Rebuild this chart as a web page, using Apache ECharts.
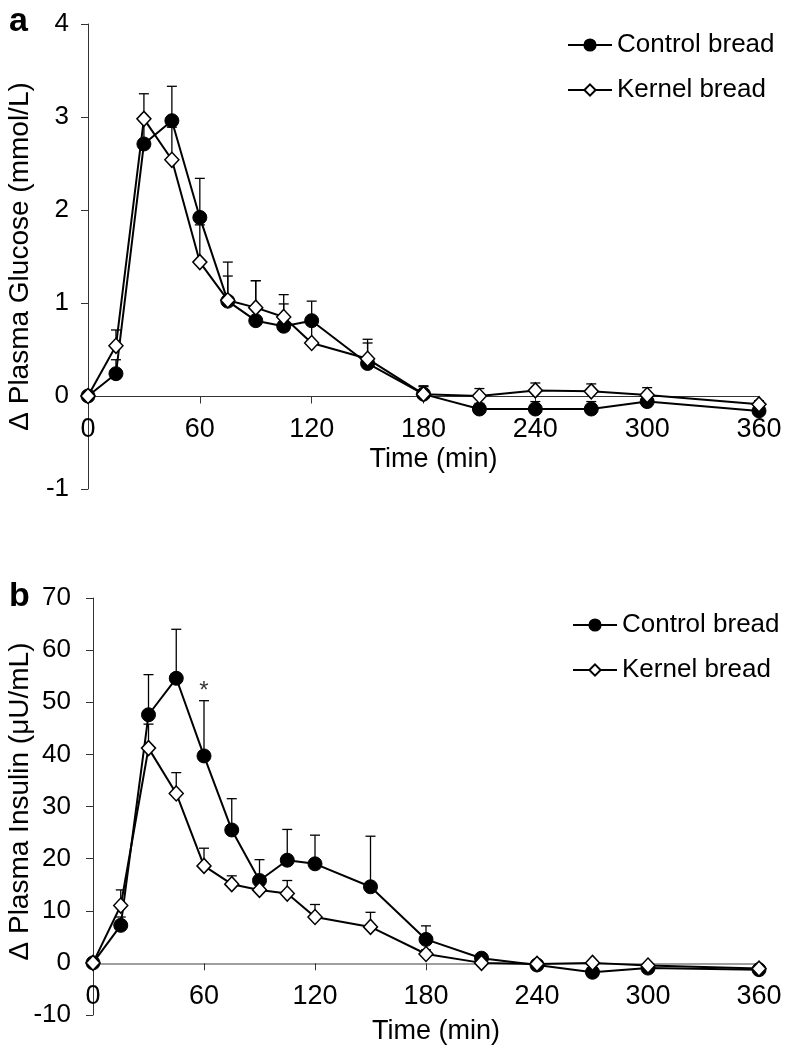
<!DOCTYPE html>
<html>
<head>
<meta charset="utf-8">
<script src="https://cdn.jsdelivr.net/npm/echarts@6/dist/echarts.min.js"></script>
<style>
html,body{margin:0;padding:0;background:#fff;}
#chart{width:786px;height:1045px;}
</style>
</head>
<body>
<div id="chart"></div>
<script>
// ---- data ----
const times = [0, 15, 30, 45, 60, 75, 90, 105, 120, 150, 180, 210, 240, 270, 300, 360];
const seriesNames = ['Control bread', 'Kernel bread'];

// Panel a: Δ plasma glucose (mmol/L)
const glucoseControl    = [0, 0.24, 2.71, 2.96, 1.92, 1.02, 0.81, 0.75, 0.81, 0.35, 0.02, -0.14, -0.14, -0.14, -0.06, -0.16];
const glucoseControlSem = [0, 0.15, 0.28, 0.37, 0.42, 0.27, 0.43, 0.24, 0.21, 0.22, 0.09, 0.06, 0.08, 0.08, 0.06, 0.05];
const glucoseKernel     = [0, 0.54, 2.98, 2.54, 1.44, 1.03, 0.95, 0.85, 0.57, 0.40, 0.02, 0.00, 0.06, 0.05, 0.01, -0.09];
const glucoseKernelSem  = [0, 0.17, 0.27, 0.35, 0.40, 0.41, 0.29, 0.24, 0.20, 0.21, 0.08, 0.08, 0.08, 0.08, 0.08, 0.04];

// Panel b: Δ plasma insulin (μU/mL)
const insulinControl    = [0, 7.2, 47.6, 54.6, 39.7, 25.5, 15.8, 19.7, 19.0, 14.6, 4.5, 0.9, -0.4, -1.8, -1.0, -1.3];
const insulinControlSem = [0, 1.6, 7.7, 9.4, 10.6, 6.0, 4.0, 5.9, 5.5, 9.7, 2.6, 0.8, 0.5, 0.6, 0.6, 0.5];
const insulinKernel     = [0, 11.0, 41.2, 32.5, 18.6, 15.1, 14.0, 13.3, 8.8, 6.9, 1.7, 0.0, -0.2, 0.0, -0.5, -1.1];
const insulinKernelSem  = [0, 3.0, 4.6, 4.0, 3.4, 1.6, 1.5, 2.5, 2.4, 2.8, 0.8, 0.4, 0.4, 0.4, 0.4, 0.3];

// significance marks (panel b)
const insulinSignif = [[60, 53.7, '*']];

// axis settings
const xTicks = {min: 0, max: 360, interval: 60};
const glucoseTicks = {min: -1, max: 4, interval: 1};
const insulinTicks = {min: -10, max: 70, interval: 10};

// ---- chart ----
const FONT = '"Liberation Sans", Arial, Helvetica, sans-serif';
const NARROW = '"Liberation Sans Narrow", "Arial Narrow", "Liberation Sans", Arial, sans-serif';

function pairs(xs, ys) { return xs.map((x, i) => [x, ys[i]]); }
function triples(xs, ys, es) { return xs.map((x, i) => [x, ys[i], es[i]]); }

function errRender(params, api) {
  const x = api.value(0), m = api.value(1), s = api.value(2);
  if (!s) return null;
  const p0 = api.coord([x, m]);
  const p1 = api.coord([x, m + s]);
  const st = {stroke: '#000', lineWidth: 1.3};
  return {
    type: 'group',
    children: [
      {type: 'line', shape: {x1: p0[0], y1: p0[1], x2: p1[0], y2: p1[1]}, style: st},
      {type: 'line', shape: {x1: p1[0] - 5, y1: p1[1], x2: p1[0] + 5, y2: p1[1]}, style: st}
    ]
  };
}

function lineSeries(name, data, idx, isControl) {
  return {
    name: name, type: 'line', data: data,
    xAxisIndex: idx, yAxisIndex: idx,
    symbol: isControl ? 'circle' : 'diamond',
    symbolSize: isControl ? 14 : [14, 15],
    showAllSymbol: true,
    lineStyle: {color: '#000', width: 2},
    itemStyle: isControl ? {color: '#000', borderColor: '#000', borderWidth: 1}
                         : {color: '#fff', borderColor: '#000', borderWidth: 1.5},
    z: 3, animation: false
  };
}
function errSeries(data, idx) {
  return {type: 'custom', renderItem: errRender, data: data,
    xAxisIndex: idx, yAxisIndex: idx, z: 2, silent: true,
    encode: {x: 0, y: 1}, animation: false};
}

// x axis drawn through y = 0 (offset moves it up from the grid bottom to the zero line)
function xAxis(idx, lineColor, lineWidth, offset, nameGap) {
  return {
    type: 'value', gridIndex: idx, min: xTicks.min, max: xTicks.max, interval: xTicks.interval,
    position: 'bottom', offset: offset,
    name: 'Time (min)', nameLocation: 'middle', nameGap: nameGap, nameMoveOverlap: false,
    nameTextStyle: {fontFamily: FONT, fontSize: 27, color: '#000', padding: [0, 0, 0, 20]},
    axisLine: {onZero: false, lineStyle: {color: lineColor, width: lineWidth}},
    axisTick: {show: true, inside: false, length: 7, lineStyle: {color: '#333', width: 1}},
    axisLabel: {fontFamily: NARROW, fontSize: 27, color: '#000', margin: 20, showMinLabel: true, showMaxLabel: true},
    splitLine: {show: false}
  };
}
function yAxis(idx, ticks, name, nameGap, namePad, labelMargin) {
  return {
    type: 'value', gridIndex: idx, min: ticks.min, max: ticks.max, interval: ticks.interval,
    name: name, nameLocation: 'middle', nameGap: nameGap, nameRotate: 90, nameMoveOverlap: false,
    nameTextStyle: {fontFamily: FONT, fontSize: 28, color: '#000', padding: namePad},
    axisLine: {onZero: false, lineStyle: {color: '#333', width: 1}},
    axisTick: {show: true, inside: false, length: 7, lineStyle: {color: '#333', width: 1}},
    axisLabel: {fontFamily: FONT, fontSize: 26, color: '#000', margin: labelMargin},
    splitLine: {show: false}
  };
}
function legend(left, top) {
  return {
    show: true, orient: 'vertical', left: left, top: top,
    data: seriesNames, itemWidth: 44, itemHeight: 14, itemGap: 19,
    textStyle: {fontFamily: FONT, fontSize: 26, color: '#000'},
    selectedMode: false
  };
}

const chart = echarts.init(document.getElementById('chart'), null, {renderer: 'canvas'});
chart.setOption({
  animation: false,
  backgroundColor: '#fff',
  grid: [
    {left: 88, top: 24, width: 671, height: 465, containLabel: false, outerBoundsMode: 'none'},
    {left: 93, top: 598, width: 666, height: 417, containLabel: false, outerBoundsMode: 'none'}
  ],
  xAxis: [xAxis(0, '#333', 1, -92.5, 50), xAxis(1, '#808080', 1.6, -51.7, 55)],
  yAxis: [
    yAxis(0, glucoseTicks, 'Δ Plasma Glucose (mmol/L)', 54, [0, 0, 0, 0], 19),
    yAxis(1, insulinTicks, 'Δ Plasma Insulin (μU/mL)', 59, [0, 0, 0, 10], 22)
  ],
  legend: [legend(562, 27), legend(567, 607)],
  graphic: [
    {type: 'text', left: 9, top: 5, style: {text: 'a', fontFamily: FONT, fontSize: 34, fontWeight: 'bold', fill: '#000'}},
    {type: 'text', left: 9, top: 580, style: {text: 'b', fontFamily: FONT, fontSize: 34, fontWeight: 'bold', fill: '#000'}}
  ],
  series: [
    errSeries(triples(times, glucoseControl, glucoseControlSem), 0),
    errSeries(triples(times, glucoseKernel, glucoseKernelSem), 0),
    lineSeries(seriesNames[0], pairs(times, glucoseControl), 0, true),
    lineSeries(seriesNames[1], pairs(times, glucoseKernel), 0, false),
    errSeries(triples(times, insulinControl, insulinControlSem), 1),
    errSeries(triples(times, insulinKernel, insulinKernelSem), 1),
    lineSeries(seriesNames[0], pairs(times, insulinControl), 1, true),
    lineSeries(seriesNames[1], pairs(times, insulinKernel), 1, false),
    {
      type: 'scatter', xAxisIndex: 1, yAxisIndex: 1, symbolSize: 0, silent: true,
      data: insulinSignif.map(d => ({value: [d[0], d[1]], label: {show: true, formatter: d[2]}})),
      label: {position: 'inside', offset: [0, 8], fontFamily: FONT, fontSize: 24, color: '#000'},
      z: 4
    }
  ]
});
</script>
</body>
</html>
